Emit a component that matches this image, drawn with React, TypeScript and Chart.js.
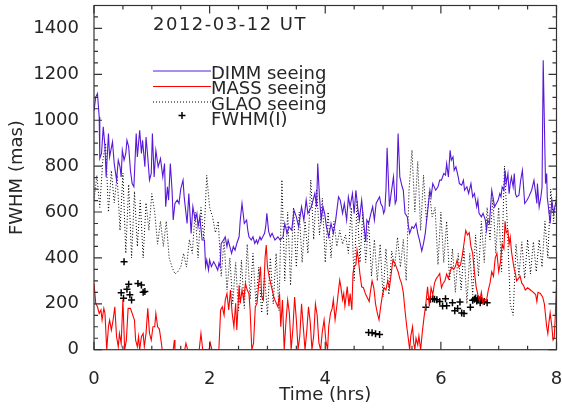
import React, { useEffect, useRef } from "react";
import { Chart, registerables } from "chart.js";

Chart.register(...registerables);

// ---- data (time in hours, FWHM in mas) ----
const dimmTime = [
  0.0, 0.03, 0.06, 0.09, 0.1, 0.13, 0.16, 0.19, 0.21, 0.25, 0.27, 0.32, 0.35, 0.39, 0.42, 0.45, 0.47, 0.49, 0.52, 0.55,
  0.57, 0.6, 0.63, 0.66, 0.69, 0.73, 0.75, 0.79, 0.82, 0.84, 0.88, 0.9, 0.93, 0.96, 0.99,
  1.01, 1.04, 1.07, 1.11, 1.15, 1.19, 1.22, 1.24, 1.27, 1.29, 1.32, 1.35, 1.37, 1.4, 1.44, 1.47, 1.5, 1.54, 1.56, 1.61,
  1.64, 1.68, 1.71, 1.75, 1.78, 1.8, 1.83, 1.87, 1.91, 1.93, 1.95, 1.98,
  2.0, 2.03, 2.07, 2.1, 2.14, 2.16, 2.18, 2.2, 2.24, 2.27, 2.3, 2.32, 2.35, 2.38, 2.41, 2.44, 2.47, 2.51, 2.53, 2.56,
  2.58, 2.6, 2.64, 2.66, 2.68, 2.72, 2.75, 2.78, 2.81, 2.83, 2.87, 2.89, 2.92, 2.95, 2.97, 2.99, 3.02,
  3.05, 3.08, 3.13, 3.18, 3.22, 3.27, 3.3, 3.34, 3.37, 3.42, 3.46, 3.5, 3.54, 3.59, 3.63, 3.67, 3.7, 3.76, 3.82, 3.85,
  3.87, 3.9, 3.93, 3.96, 3.99, 4.02,
  4.06, 4.1, 4.14, 4.18, 4.23, 4.26, 4.3, 4.33, 4.37, 4.4, 4.43, 4.47, 4.5, 4.53, 4.56, 4.59, 4.63, 4.66, 4.7, 4.72,
  4.75, 4.79, 4.82, 4.85, 4.88, 4.91, 4.94, 4.96, 4.99,
  5.01, 5.03, 5.05, 5.07, 5.11, 5.14, 5.18, 5.21, 5.23, 5.26, 5.29, 5.33, 5.35, 5.38, 5.42, 5.44, 5.46, 5.5, 5.53, 5.57,
  5.6, 5.63, 5.67, 5.7, 5.73, 5.76, 5.78, 5.81, 5.83, 5.86, 5.91, 5.95, 5.98,
  6.01, 6.05, 6.08, 6.1, 6.13, 6.16, 6.18, 6.21, 6.23, 6.26, 6.3, 6.32, 6.36, 6.39, 6.41, 6.45, 6.48, 6.52, 6.55, 6.58,
  6.62, 6.64, 6.66, 6.7, 6.73, 6.77, 6.79, 6.81, 6.84, 6.86, 6.88, 6.9, 6.93, 6.96,
  6.99, 7.02, 7.04, 7.06, 7.09, 7.11, 7.13, 7.16, 7.18, 7.2, 7.22, 7.25, 7.27, 7.29, 7.31, 7.35, 7.38, 7.41, 7.43, 7.45,
  7.49, 7.52, 7.57, 7.61, 7.64, 7.66, 7.67, 7.7, 7.73, 7.75, 7.77, 7.81, 7.83, 7.84, 7.86, 7.89, 7.92, 7.95, 7.97, 8.0,
];
const dimmSeeing = [
  1040, 1101, 1116, 1014, 833, 855, 971, 884, 753, 942, 840, 906, 811, 739, 826, 797, 753, 869, 826, 855,
  913, 884, 782, 724, 710, 942, 840, 956, 855, 913, 797, 927, 840, 739, 768,
  942, 753, 869, 797, 833, 753, 811, 623, 710, 652, 811, 695, 565, 637, 652, 637, 700, 739, 666, 550,
  681, 507, 623, 565, 594, 536, 579, 478, 478, 362, 391, 347,
  391, 362, 383, 369, 347, 376, 362, 463, 478, 492, 449, 478, 449, 420, 449, 434, 463, 492, 565, 637,
  594, 550, 565, 521, 492, 478, 492, 463, 478, 463, 492, 478, 492, 507, 536, 594, 517,
  492, 507, 478, 492, 478, 492, 550, 507, 536, 521, 608, 579, 536, 623, 565, 652, 594, 623, 681, 623,
  811, 666, 565, 623, 594, 536,
  492, 550, 507, 565, 666, 652, 594, 637, 565, 666, 623, 681, 594, 695, 623, 565, 652, 565, 470, 565,
  550, 594, 623, 565, 637, 652, 666, 637, 623,
  594, 608, 695, 880, 623, 681, 753, 637, 652, 942, 753, 710, 695, 594, 579, 536, 507, 536, 529, 550,
  507, 478, 430, 463, 507, 579, 623, 695, 666, 724, 695, 710, 739,
  739, 768, 761, 811, 753, 869, 826, 840, 782, 797, 753, 724, 717, 739, 695, 710, 681, 724, 666, 681,
  623, 652, 594, 579, 594, 565, 521, 565, 550, 623, 695, 666, 623, 637,
  651, 680, 666, 709, 695, 782, 724, 768, 680, 724, 753, 709, 768, 680, 666, 673, 738, 782, 709, 637,
  651, 666, 695, 738, 680, 637, 724, 622, 666, 709, 1261, 724, 768, 666, 622, 550, 651, 593, 622, 651,
];

const massTime = [
  0.0, 0.03, 0.06, 0.09, 0.12, 0.14, 0.17, 0.19, 0.22, 0.25, 0.27, 0.3, 0.33, 0.36, 0.39, 0.42, 0.44, 0.47, 0.5, 0.53,
  0.56, 0.59, 0.63, 0.66, 0.7, 0.72, 0.75, 0.77, 0.79, 0.82, 0.85, 0.87, 0.9, 0.93, 0.96, 0.99, 1.02, 1.05, 1.07, 1.1,
  1.13, 1.15, 1.18, 1.37, 1.39, 1.4, 1.57, 1.59, 1.62, 1.82, 1.85, 1.88, 1.99, 2.01, 2.04, 2.16, 2.19, 2.22, 2.25, 2.27,
  2.3, 2.33, 2.36, 2.39, 2.42, 2.45, 2.47, 2.51, 2.53, 2.56, 2.59, 2.62, 2.65, 2.68, 2.7, 2.73, 2.76, 2.79, 2.82, 2.85,
  2.88, 2.9, 2.93, 2.96, 2.98, 3.0, 3.03, 3.07, 3.11, 3.13, 3.18, 3.21, 3.23, 3.26, 3.29, 3.32, 3.35, 3.38, 3.41, 3.44,
  3.47, 3.5, 3.53, 3.56, 3.59, 3.62, 3.65, 3.68, 3.71, 3.74, 3.77, 3.8, 3.83, 3.86, 3.89, 3.92, 3.95, 3.98, 4.01, 4.04,
  4.06, 4.09, 4.12, 4.14, 4.17, 4.2, 4.23, 4.25, 4.27, 4.3, 4.32, 4.34, 4.36, 4.38, 4.41, 4.43, 4.46, 4.48, 4.5, 4.53,
  4.55, 4.57, 4.6, 4.63, 4.66, 4.7, 4.72, 4.76, 4.78, 4.81, 4.84, 4.87, 4.9, 4.93, 4.96, 4.99, 5.02, 5.05, 5.08, 5.11,
  5.14, 5.17, 5.2, 5.23, 5.26, 5.29, 5.32, 5.35, 5.38, 5.41, 5.44, 5.46, 5.48, 5.51, 5.53, 5.55, 5.57, 5.6, 5.62, 5.65,
  5.68, 5.71, 5.74, 5.77, 5.8, 5.83, 5.86, 5.89, 5.92, 5.95, 5.98, 6.01, 6.04, 6.07, 6.1, 6.13, 6.16, 6.19, 6.22, 6.25,
  6.28, 6.31, 6.34, 6.37, 6.4, 6.43, 6.46, 6.49, 6.52, 6.55, 6.58, 6.61, 6.64, 6.67, 6.7, 6.73, 6.76, 6.79, 6.82, 6.85,
  6.88, 6.91, 6.94, 6.97, 7.0, 7.03, 7.06, 7.09, 7.11, 7.13, 7.16, 7.18, 7.2, 7.22, 7.25, 7.27, 7.29, 7.31, 7.34, 7.37,
  7.4, 7.43, 7.46, 7.5, 7.55, 7.6, 7.64, 7.66, 7.68, 7.72, 7.76, 7.79, 7.81, 7.83, 7.85, 7.87, 7.89, 7.92, 7.94, 7.96,
  7.98, 8.0,
];
const massSeeing = [
  289, 202, 187, 158, 173, 129, 180, 158, 0, 100, 129, 86, 129, 187, 57, 13, 71, 28, 216, 0,
  42, 180, 180, 158, 129, 42, 13, 57, 0, 57, 71, 13, 71, 180, 71, 42, 100, 100, 158, 100,
  90, 57, 0, 0, 42, 0, 0, 28, 0, 0, 71, 0, 0, 30, 0, 0, 173, 187, 151, 216,
  245, 173, 260, 158, 100, 202, 86, 281, 202, 260, 216, 289, 260, 245, 173, 0, 28, 187, 202, 289,
  361, 231, 216, 405, 456, 361, 318, 274, 231, 216, 187, 245, 100, 216, 0, 120, 216, 158, 0, 90,
  230, 130, 0, 60, 200, 100, 0, 80, 187, 120, 0, 60, 200, 150, 30, 0, 80, 130, 40, 0,
  100, 158, 180, 218, 130, 190, 260, 303, 274, 218, 245, 190, 230, 275, 190, 245, 173, 333, 362, 370,
  434, 400, 330, 274, 270, 240, 231, 210, 250, 300, 270, 200, 160, 130, 190, 240, 270, 260, 300, 270,
  330, 390, 380, 360, 340, 310, 289, 250, 170, 100, 42, 0, 60, 100, 30, 0, 50, 20, 60, 0,
  80, 144, 200, 274, 190, 270, 240, 290, 310, 320, 332, 270, 290, 300, 330, 310, 340, 360, 350, 361,
  390, 360, 370, 410, 463, 520, 500, 510, 450, 420, 340, 274, 240, 210, 250, 200, 220, 216, 260, 290,
  340, 320, 400, 420, 340, 380, 460, 440, 560, 510, 520, 460, 490, 430, 380, 350, 330, 300, 310, 320,
  290, 280, 260, 270, 260, 250, 240, 210, 250, 245, 230, 200, 150, 100, 70, 120, 160, 100, 42, 50,
  150, 289,
];

const glaoTime = [
  0.0, 0.05, 0.1, 0.15, 0.2, 0.25, 0.3, 0.35, 0.4, 0.45, 0.5, 0.55, 0.6, 0.65, 0.7, 0.75, 0.8, 0.85, 0.9, 0.95,
  1.0, 1.05, 1.1, 1.15, 1.2, 1.25, 1.3, 1.35, 1.4, 1.45, 1.5, 1.55, 1.6, 1.65, 1.7, 1.75, 1.8, 1.85, 1.9, 1.95,
  2.0, 2.05, 2.1, 2.15, 2.2, 2.25, 2.3, 2.35, 2.4, 2.45, 2.5, 2.55, 2.6, 2.65, 2.7, 2.75, 2.8, 2.85, 2.9, 2.95,
  3.0, 3.05, 3.1, 3.15, 3.2, 3.25, 3.3, 3.35, 3.4, 3.45, 3.5, 3.55, 3.6, 3.65, 3.7, 3.75, 3.8, 3.85, 3.9, 3.95,
  4.0, 4.05, 4.1, 4.15, 4.2, 4.25, 4.3, 4.35, 4.4, 4.45, 4.5, 4.55, 4.6, 4.65, 4.7, 4.75, 4.8, 4.85, 4.9, 4.95,
  5.0, 5.05, 5.1, 5.15, 5.2, 5.25, 5.3, 5.35, 5.4, 5.45, 5.5, 5.55, 5.6, 5.65, 5.7, 5.75, 5.8, 5.85, 5.9, 5.95,
  6.0, 6.05, 6.1, 6.15, 6.2, 6.25, 6.3, 6.35, 6.4, 6.45, 6.5, 6.55, 6.6, 6.65, 6.7, 6.75, 6.8, 6.85, 6.9, 6.95,
  7.0, 7.05, 7.1, 7.15, 7.2, 7.25, 7.3, 7.35, 7.4, 7.45, 7.5, 7.55, 7.6, 7.65, 7.7, 7.75, 7.8, 7.85, 7.9, 7.95,
  8.0,
];
const glaoSeeing = [
  650, 760, 620, 820, 900, 600, 780, 640, 760, 520, 770, 420, 720, 400, 690, 450, 650, 400, 640, 520,
  680, 600, 460, 560, 450, 560, 400, 360, 330, 340, 360, 420, 360, 480, 420, 600, 400, 620, 480, 760,
  620, 580, 510, 560, 320, 480, 260, 400, 200, 380, 170, 390, 180, 460, 220, 420, 200, 360, 160, 330,
  150, 400, 200, 420, 170, 740, 300, 600, 280, 620, 360, 600, 380, 560, 420, 740, 480, 700, 500, 660,
  380, 600, 400, 560, 450, 520, 460, 500, 420, 620, 300, 650, 380, 600, 380, 560, 320, 480, 300, 460,
  230, 440, 240, 430, 360, 490, 360, 480, 300, 700, 870, 600, 820, 520, 760, 560, 690, 580, 620, 370,
  600, 380, 560, 300, 440, 250, 420, 260, 440, 200, 420, 240, 500, 320, 560, 380, 620, 480, 660, 420,
  620, 340, 800, 540, 200, 150, 460, 320, 470, 310, 480, 330, 470, 340, 480, 360, 560, 400, 700, 560,
  680,
];

const fwhmTime = [
  0.47, 0.51, 0.52, 0.57, 0.6, 0.62, 0.65, 0.76, 0.82, 0.85, 0.88,
  4.75, 4.81, 4.87, 4.94,
  5.74, 5.82, 5.86, 5.89, 5.93, 5.98, 6.03, 6.08, 6.1, 6.2, 6.24, 6.29, 6.33, 6.36, 6.4,
  6.51, 6.55, 6.58, 6.6, 6.62, 6.64, 6.66, 6.68, 6.7, 6.75, 6.8,
];
const fwhmValue = [
  248, 224, 383, 263, 285, 240, 217, 289, 282, 250, 254,
  75, 74, 70, 66,
  185, 220, 222, 220, 218, 210, 190, 222, 192, 205, 170, 180, 208, 160, 158,
  185, 215, 220, 225, 212, 222, 218, 205, 215, 210, 205,
];

const seriesLabels = ["DIMM seeing", "MASS seeing", "GLAO seeing", "FWHM(I)"];
const chartTitle = "2012-03-12 UT";
const xTitle = "Time (hrs)";
const yTitle = "FWHM (mas)";
const xRange = [0, 8];
const yRange = [0, 1500];
const xMajorStep = 2;
const xMinorStep = 0.5;
const yMajorStep = 200;
const yMinorStep = 50;

const FONT = '"DejaVu Sans", sans-serif';
const TEXT = "#262626";
const AXIS = "#333333";
const DIMM_COLOR = "rgb(88,24,216)";
const MASS_COLOR = "rgb(255,0,0)";

const pairs = (t: number[], v: number[]) => t.map((x, i) => ({ x, y: v[i] }));

export default function App() {
  const ref = useRef<HTMLCanvasElement>(null);

  useEffect(() => {
    document.body.style.margin = "0";
    const canvas = ref.current;
    if (!canvas) return;

    const idlFrame = {
      id: "idlFrame",
      afterDraw(chart: any) {
        const { ctx, chartArea: a, scales } = chart;
        const xs = scales.x;
        const ys = scales.y;
        ctx.save();
        ctx.strokeStyle = AXIS;
        ctx.lineWidth = 1.2;
        ctx.setLineDash([]);
        ctx.strokeRect(a.left, a.top, a.right - a.left, a.bottom - a.top);
        ctx.beginPath();
        const nx = Math.round((xRange[1] - xRange[0]) / xMinorStep);
        for (let i = 0; i <= nx; i++) {
          const v = xRange[0] + i * xMinorStep;
          const px = xs.getPixelForValue(v);
          const len = Math.abs(v / xMajorStep - Math.round(v / xMajorStep)) < 1e-6 ? 8 : 4;
          ctx.moveTo(px, a.bottom);
          ctx.lineTo(px, a.bottom - len);
          ctx.moveTo(px, a.top);
          ctx.lineTo(px, a.top + len);
        }
        const ny = Math.round((yRange[1] - yRange[0]) / yMinorStep);
        for (let i = 0; i <= ny; i++) {
          const v = yRange[0] + i * yMinorStep;
          const py = ys.getPixelForValue(v);
          const len = Math.abs(v / yMajorStep - Math.round(v / yMajorStep)) < 1e-6 ? 8 : 4;
          ctx.moveTo(a.left, py);
          ctx.lineTo(a.left + len, py);
          ctx.moveTo(a.right, py);
          ctx.lineTo(a.right - len, py);
        }
        ctx.stroke();

        // title
        ctx.font = `18px ${FONT}`;
        ctx.fillStyle = TEXT;
        ctx.textAlign = "left";
        ctx.textBaseline = "alphabetic";
        try {
          (ctx as any).letterSpacing = "1.5px";
        } catch (e) {}
        ctx.fillText(chartTitle, 153, 30);
        try {
          (ctx as any).letterSpacing = "0px";
        } catch (e) {}

        // legend
        const lx0 = 153;
        const lx1 = 211;
        const baselines = [78.5, 94, 109.5, 125];
        const ds = chart.data.datasets;
        for (let i = 0; i < 3; i++) {
          const ly = baselines[i] - 7.5;
          ctx.beginPath();
          ctx.strokeStyle = ds[i].borderColor;
          ctx.lineWidth = 1;
          ctx.setLineDash(ds[i].borderDash || []);
          ctx.moveTo(lx0, ly);
          ctx.lineTo(lx1, ly);
          ctx.stroke();
        }
        ctx.setLineDash([]);
        ctx.beginPath();
        ctx.strokeStyle = "#000";
        ctx.lineWidth = 1.5;
        const cx = 182;
        const cy = baselines[3] - 9.5;
        ctx.moveTo(cx - 3.5, cy);
        ctx.lineTo(cx + 3.5, cy);
        ctx.moveTo(cx, cy - 3.5);
        ctx.lineTo(cx, cy + 3.5);
        ctx.stroke();
        ctx.fillStyle = TEXT;
        for (let i = 0; i < 4; i++) {
          ctx.fillText(seriesLabels[i], lx1, baselines[i]);
        }
        ctx.restore();
      },
    };

    const chart = new Chart(canvas, {
      type: "line",
      data: {
        datasets: [
          {
            label: seriesLabels[0],
            data: pairs(dimmTime, dimmSeeing),
            borderColor: DIMM_COLOR,
            borderWidth: 1.1,
            pointRadius: 0,
            tension: 0,
          },
          {
            label: seriesLabels[1],
            data: pairs(massTime, massSeeing),
            borderColor: MASS_COLOR,
            borderWidth: 1.1,
            pointRadius: 0,
            tension: 0,
          },
          {
            label: seriesLabels[2],
            data: pairs(glaoTime, glaoSeeing),
            borderColor: "#000000",
            borderWidth: 1,
            borderDash: [1, 2],
            pointRadius: 0,
            tension: 0,
          },
          {
            label: seriesLabels[3],
            data: pairs(fwhmTime, fwhmValue),
            showLine: false,
            borderColor: "#000000",
            backgroundColor: "#000000",
            pointStyle: "cross",
            pointRadius: 3.5,
            pointBorderWidth: 1.5,
          },
        ] as any,
      },
      options: {
        responsive: false,
        animation: false,
        devicePixelRatio: 1,
        events: [],
        layout: { padding: { top: 5, right: 2, left: 0, bottom: 0 } },
        plugins: {
          legend: { display: false },
          tooltip: { enabled: false },
          title: { display: false },
        },
        scales: {
          x: {
            type: "linear",
            min: xRange[0],
            max: xRange[1],
            grid: { display: false },
            border: { display: false },
            ticks: {
              stepSize: xMajorStep,
              maxRotation: 0,
              autoSkip: false,
              includeBounds: false,
              padding: 11,
              color: TEXT,
              font: { family: FONT, size: 18 },
              callback: (v: any) => String(v),
            },
            title: {
              display: true,
              text: xTitle,
              color: TEXT,
              font: { family: FONT, size: 18 },
              padding: { top: 0, bottom: 5 },
            },
            afterFit: (s: any) => {
              s.height = 61.3;
              s.paddingLeft = 0;
              s.paddingRight = 0;
            },
          },
          y: {
            type: "linear",
            min: yRange[0],
            max: yRange[1],
            grid: { display: false },
            border: { display: false },
            ticks: {
              stepSize: yMajorStep,
              autoSkip: false,
              includeBounds: false,
              padding: 7,
              color: TEXT,
              font: { family: FONT, size: 18 },
              callback: (v: any) => String(v),
            },
            title: {
              display: true,
              text: yTitle,
              color: TEXT,
              font: { family: FONT, size: 18 },
              padding: { top: 7, bottom: 0 },
            },
            afterFit: (s: any) => {
              s.width = 94;
              s.paddingTop = 0;
              s.paddingBottom = 0;
            },
          },
        },
      } as any,
      plugins: [idlFrame],
    });

    return () => chart.destroy();
  }, []);

  return (
    <div style={{ width: 562, height: 411 }}>
      <canvas ref={ref} width={562} height={411} style={{ display: "block" }} />
    </div>
  );
}
